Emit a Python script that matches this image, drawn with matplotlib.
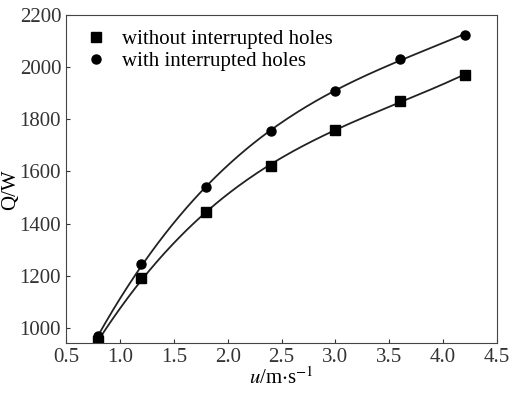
import numpy as np
import matplotlib.pyplot as plt

plt.rcParams['font.family'] = ['Liberation Serif', 'DejaVu Serif']
plt.rcParams['mathtext.fontset'] = 'stix'

u = [0.8, 1.2, 1.8, 2.4, 3.0, 3.6, 4.2]
q_without = [948, 1190, 1445, 1620, 1760, 1870, 1970]
q_with = [968, 1245, 1540, 1755, 1910, 2030, 2125]

fig = plt.figure(figsize=(5.13, 3.96), dpi=100)
ax = fig.add_axes([66 / 513, 1 - 343 / 396, (497 - 66) / 513, (343 - 15) / 396])

uu = np.linspace(min(u), max(u), 200)
for q, m, lab in [(q_without, 's', 'without interrupted holes'),
                  (q_with, 'o', 'with interrupted holes')]:
    c = np.polyfit(u, q, 3)
    ax.plot(uu, np.polyval(c, uu), color='#222222', lw=1.3)
    ax.plot(u, q, m, color='black', ms=6.5, label=lab)

ax.set_xlim(0.5, 4.5)
ax.set_ylim(942, 2200)
ax.set_xticks(np.arange(0.5, 4.51, 0.5))
ax.set_yticks(range(1000, 2201, 200))
ax.tick_params(direction='in', labelsize=15, length=3, colors='#333333')
for s in ax.spines.values():
    s.set_color('#444444')
ax.set_xlabel(r'$u$/m$\cdot$s$^{-1}$', fontsize=15, labelpad=0)
fig.text(0.003, 0.52, 'Q/W', rotation=90, va='center', ha='left', fontsize=15)
ax.legend(loc='upper left', frameon=False, fontsize=15, handletextpad=0.5,
          borderaxespad=0.3, labelspacing=0.1, handlelength=1.5,
          bbox_to_anchor=(0.0, 1.0))

fig.savefig('out.png', dpi=100)
